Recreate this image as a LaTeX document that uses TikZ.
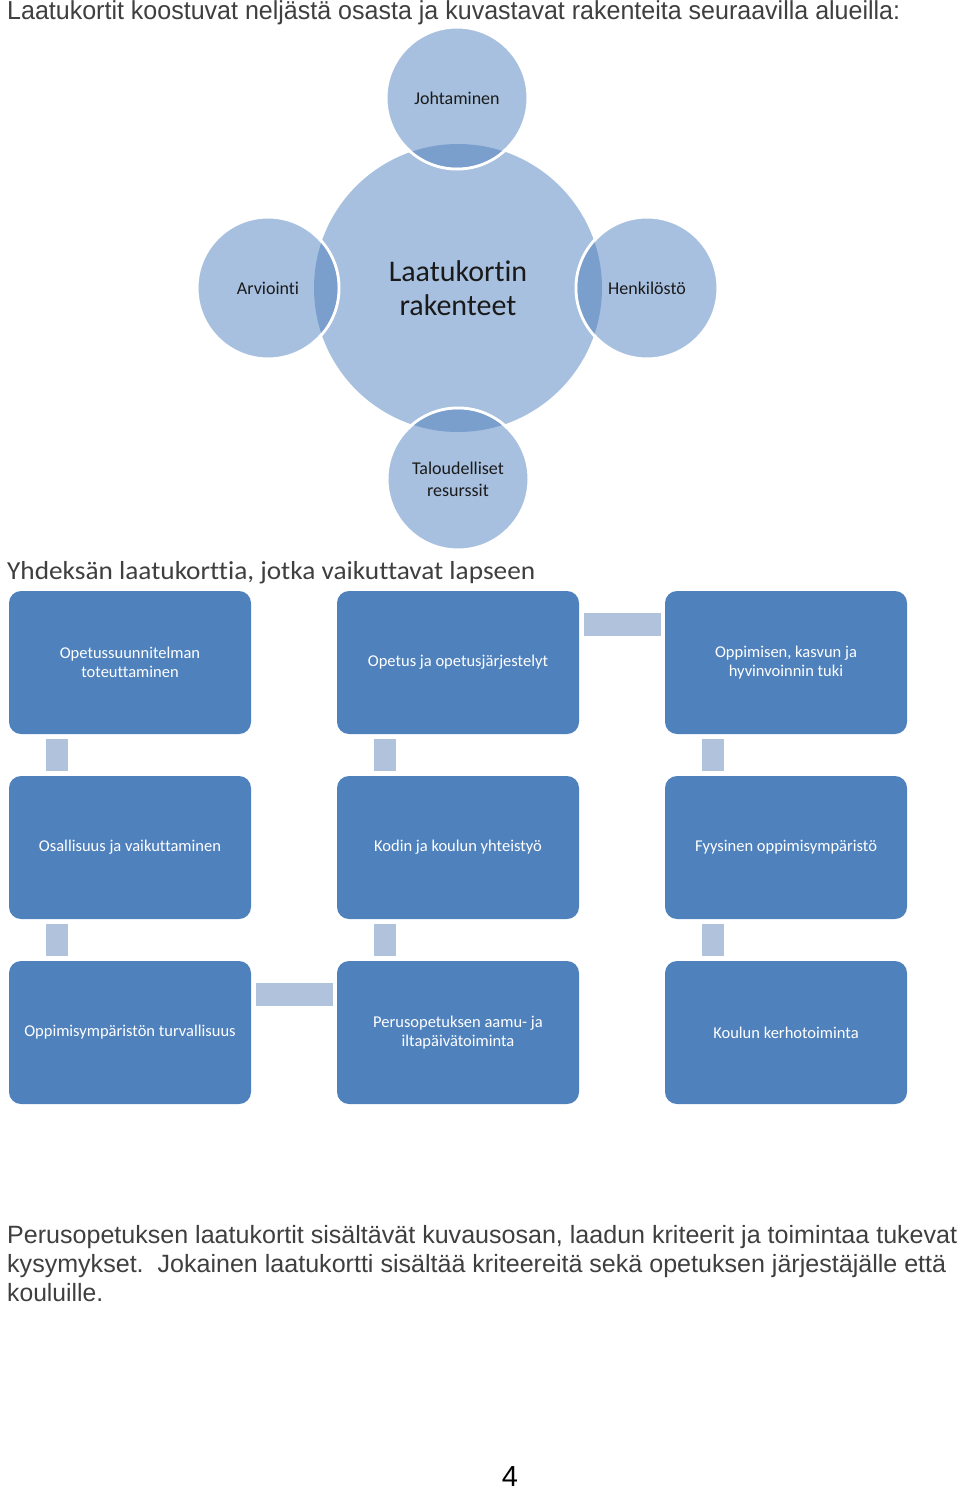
\documentclass[tikz,border=0pt]{standalone}
\usepackage{fontspec}
\usepackage{graphicx}
\setmainfont{Liberation Sans}
\newfontfamily\calfont[Ligatures={NoCommon}]{Carlito}
\definecolor{circfill}{HTML}{A8C0DF}
\definecolor{lensfill}{HTML}{7B9FCD}
\definecolor{cardblue}{HTML}{4F81BD}
\definecolor{connblue}{HTML}{B1C2DD}
\definecolor{headgray}{HTML}{3F3F3F}
\definecolor{circtext}{HTML}{1A1A1A}
\begin{document}
\begin{tikzpicture}[x=1pt,y=-1pt,
  headtxt/.style={anchor=base west, inner sep=0pt, text=headgray},
  circ/.style={circle, fill=circfill, inner sep=0pt, text=circtext, align=center,
    font=\calfont\fontsize{18}{22}\selectfont},
  sat/.style={circ, minimum size=142pt, draw=white, line width=3pt},
  card/.style={rectangle, rounded corners=12pt, fill=cardblue, minimum width=242pt,
    minimum height=143pt, inner sep=0pt, text=white, align=center,
    font=\calfont\fontsize{16.5}{19.5}\selectfont},
  vconn/.style={draw=connblue, line width=22pt},
  hconn/.style={draw=connblue, line width=23pt}]
\useasboundingbox[fill=white] (0,0) rectangle (960,1490);

% headings
\node[headtxt] (h1) at (7,20) {\resizebox{893pt}{\height}{\fontsize{26}{30}\selectfont Laatukortit koostuvat neljästä osasta ja kuvastavat rakenteita seuraavilla alueilla:}};

% circles
\node[circ, minimum size=288pt, font=\calfont\fontsize{30}{34}\selectfont] (c) at (458,288) {Laatukortin\\rakenteet};
\node[sat] (top) at (457,98) {Johtaminen};
\node[sat] (left) at (268,288) {Arviointi};
\node[sat] (right) at (647,288) {Henkilöstö};
\node[sat] (bot) at (458,479) {Taloudelliset\\resurssit};
\foreach \s in {top,left,right,bot}{
  \begin{scope}
    \clip (c.center) circle (144pt);
    \fill[lensfill] (\s.center) circle (69.5pt);
  \end{scope}
}

\node[headtxt, font=\calfont] (h2) at (7,579) {\resizebox{528pt}{\height}{\fontsize{26}{30}\selectfont Yhdeksän laatukorttia, jotka vaikuttavat lapseen}};

% cards
\node[card] (b11) at (130,662.5) {Opetussuunnitelman\\toteuttaminen};
\node[card] (b12) at (458,662.5) {Opetus ja opetusjärjestelyt};
\node[card] (b13) at (786,662.5) {Oppimisen, kasvun ja\\hyvinvoinnin tuki};
\node[card] (b21) at (130,847.5) {Osallisuus ja vaikuttaminen};
\node[card] (b22) at (458,847.5) {Kodin ja koulun yhteistyö};
\node[card] (b23) at (786,847.5) {Fyysinen oppimisympäristö};
\node[card] (b31) at (130,1032.5) {Oppimisympäristön turvallisuus};
\node[card] (b32) at (458,1032.5) {Perusopetuksen aamu- ja\\iltapäivätoiminta};
\node[card] (b33) at (786,1032.5) {Koulun kerhotoiminta};

% connectors
\foreach \a/\b in {b11/b21,b12/b22,b13/b23,b21/b31,b22/b32,b23/b33}{
  \draw[vconn] ([xshift=-73pt,yshift=-4.5pt]\a.south) -- ([xshift=-73pt,yshift=4.5pt]\b.north);
}
\draw[hconn] ([xshift=5pt,yshift=38pt]b12.east) -- ([xshift=-4pt,yshift=38pt]b13.west);
\draw[hconn] ([xshift=5pt,yshift=38pt]b31.east) -- ([xshift=-4pt,yshift=38pt]b32.west);

% bottom paragraph
\node[headtxt] (p1) at (7,1243) {\resizebox{950pt}{\height}{\fontsize{25}{29}\selectfont Perusopetuksen laatukortit sisältävät kuvausosan, laadun kriteerit ja toimintaa tukevat}};
\node[headtxt] (p2) at (7,1272) {\resizebox{939pt}{\height}{\fontsize{25}{29}\selectfont kysymykset.\ \ Jokainen laatukortti sisältää kriteereitä sekä opetuksen järjestäjälle että}};
\node[headtxt] (p3) at (7,1301) {\resizebox{96pt}{\height}{\fontsize{25}{29}\selectfont kouluille.}};

\node[anchor=base, inner sep=0pt, font=\fontsize{29}{33}\selectfont] (pg) at (510,1486) {4};
\end{tikzpicture}
\end{document}
